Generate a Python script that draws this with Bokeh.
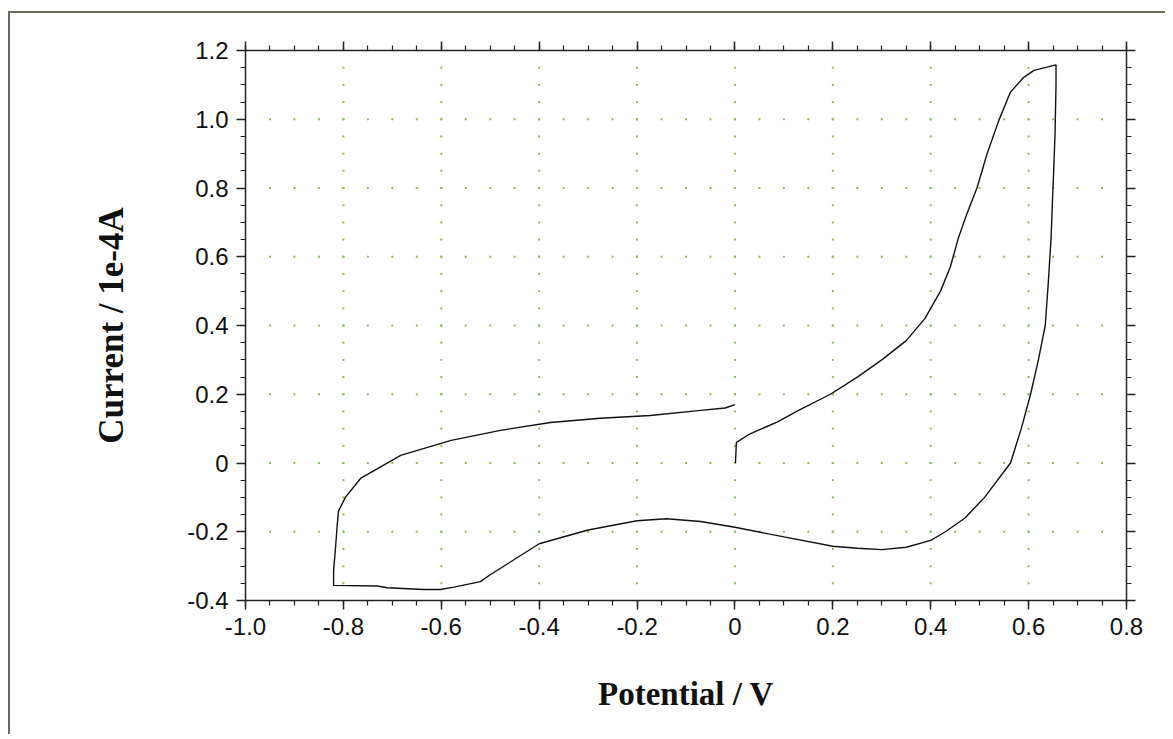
import numpy as np
from bokeh.plotting import figure
from bokeh.models import Range1d, FixedTicker, LinearAxis, CustomLabelingPolicy
from bokeh.embed import file_html
from bokeh.resources import INLINE

# ---- data ----
potential = [0.001, 0.003, 0.031, 0.086, 0.13, 0.195, 0.25, 0.30, 0.35, 0.388, 0.42, 0.44,
             0.457, 0.474, 0.495, 0.515, 0.539, 0.563, 0.59, 0.611, 0.656, 0.656, 0.654,
             0.651, 0.649, 0.646, 0.64, 0.634, 0.62, 0.604, 0.585, 0.563, 0.51, 0.47, 0.43,
             0.40, 0.35, 0.30, 0.25, 0.20, 0.10, 0.0, -0.07, -0.14, -0.2, -0.3, -0.4, -0.45,
             -0.5, -0.52, -0.547, -0.574, -0.602, -0.636, -0.71, -0.731, -0.82, -0.82,
             -0.816, -0.813, -0.81, -0.796, -0.765, -0.683, -0.58, -0.479, -0.377, -0.275,
             -0.173, -0.07, -0.02, 0.0]
current = [0.0, 0.06, 0.085, 0.119, 0.153, 0.20, 0.25, 0.30, 0.356, 0.42, 0.50, 0.57,
           0.657, 0.725, 0.802, 0.899, 0.996, 1.079, 1.122, 1.142, 1.158, 1.10, 0.958,
           0.841, 0.773, 0.657, 0.52, 0.40, 0.30, 0.20, 0.10, 0.0, -0.10, -0.16, -0.20,
           -0.225, -0.245, -0.252, -0.248, -0.242, -0.215, -0.187, -0.17, -0.162, -0.168,
           -0.195, -0.235, -0.28, -0.325, -0.345, -0.353, -0.361, -0.368, -0.368, -0.363,
           -0.358, -0.356, -0.313, -0.245, -0.187, -0.14, -0.10, -0.045, 0.022, 0.066,
           0.095, 0.118, 0.13, 0.138, 0.153, 0.16, 0.17]

x_ticks = [-1.0, -0.8, -0.6, -0.4, -0.2, 0, 0.2, 0.4, 0.6, 0.8]
x_tick_labels = ["-1.0", "-0.8", "-0.6", "-0.4", "-0.2", "0", "0.2", "0.4", "0.6", "0.8"]
y_ticks = [-0.4, -0.2, 0, 0.2, 0.4, 0.6, 0.8, 1.0, 1.2]
y_tick_labels = ["-0.4", "-0.2", "0", "0.2", "0.4", "0.6", "0.8", "1.0", "1.2"]
x_minor = [round(v, 2) for v in np.arange(-1.0, 0.8001, 0.05)]
y_minor = [round(v, 2) for v in np.arange(-0.4, 1.2001, 0.05)]

p = figure(frame_width=881, frame_height=550,
           x_range=Range1d(-1.0, 0.8), y_range=Range1d(-0.4, 1.2),
           output_backend="svg", toolbar_location=None,
           min_border_left=235, min_border_top=37, min_border_right=30,
           min_border_bottom=134,
           background_fill_color="white", border_fill_color="white",
           outline_line_color=None,
           styles={"border-left": "2px solid #6b6b5f", "border-top": "2px solid #6b6b5f",
                   "margin-top": "11px", "margin-left": "8px"})
p.xgrid.visible = False
p.ygrid.visible = False

# dotted grid drawn as small dots at minor intervals along major lines
gx, gy = [], []
for xv in x_ticks[1:-1]:
    for yv in y_minor[1:-1]:
        gx.append(xv); gy.append(yv)
for yv in y_ticks[1:-1]:
    for xv in x_minor[1:-1]:
        gx.append(xv); gy.append(yv)
p.scatter(gx, gy, marker="square", size=2, line_color=None, fill_color="#84c256")

p.line(potential, current, line_color="#111111", line_width=1.4)

xt = FixedTicker(ticks=x_ticks, minor_ticks=x_minor)
yt = FixedTicker(ticks=y_ticks, minor_ticks=y_minor)

def style_axis(ax, ticker, over=None, show=True):
    ax.ticker = ticker
    ax.axis_line_color = "#222222"
    ax.axis_line_width = 1.5
    ax.major_tick_line_color = "#222222"
    ax.major_tick_line_width = 1.5
    ax.minor_tick_line_color = "#222222"
    ax.minor_tick_line_width = 1.2
    ax.major_tick_in = 0
    ax.major_tick_out = 9
    ax.minor_tick_in = 0
    ax.minor_tick_out = 5
    if show:
        ax.major_label_overrides = over
        ax.major_label_text_font = "Liberation Sans"
        ax.major_label_text_font_size = "24px"
        ax.major_label_text_color = "#111111"
        ax.major_label_standoff = 8
    else:
        ax.major_label_policy = CustomLabelingPolicy(
            code="for (const i of indices) { if (false) yield i }")

style_axis(p.xaxis[0], xt, {t: l for t, l in zip(x_ticks, x_tick_labels)})
style_axis(p.yaxis[0], yt, {t: l for t, l in zip(y_ticks, y_tick_labels)})

p.xaxis[0].axis_label = "Potential / V"
p.xaxis[0].axis_label_text_font = "Liberation Serif"
p.xaxis[0].axis_label_text_font_style = "bold"
p.xaxis[0].axis_label_text_font_size = "33px"
p.xaxis[0].axis_label_text_color = "#111111"
p.xaxis[0].axis_label_standoff = 38

p.yaxis[0].axis_label = "Current / 1e-4A"
p.yaxis[0].axis_label_text_font = "Liberation Serif"
p.yaxis[0].axis_label_text_font_style = "bold"
p.yaxis[0].axis_label_text_font_size = "35px"
p.yaxis[0].axis_label_text_color = "#111111"
p.yaxis[0].axis_label_standoff = 53

top = LinearAxis()
style_axis(top, xt, show=False)
p.add_layout(top, "above")
right = LinearAxis()
style_axis(right, yt, show=False)
p.add_layout(right, "right")

open("out.html", "w").write(file_html(p, INLINE))
